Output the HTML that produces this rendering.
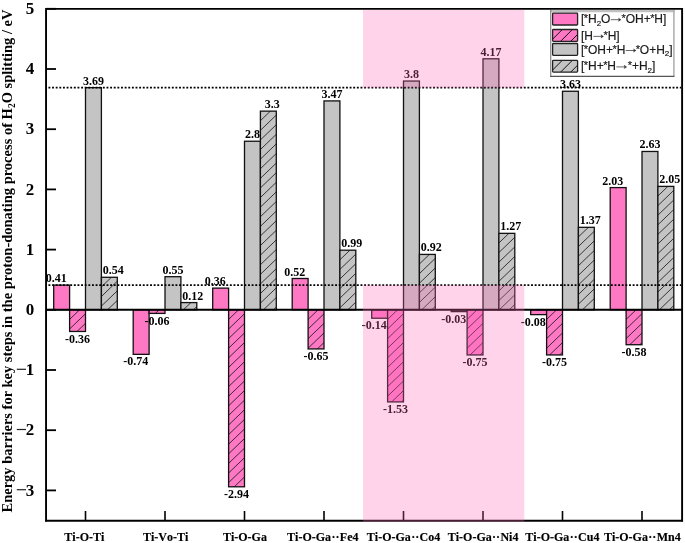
<!DOCTYPE html>
<html><head><meta charset="utf-8"><style>html,body{margin:0;padding:0;background:#fff;width:685px;height:543px;overflow:hidden}svg{display:block}</style></head><body><svg width="685" height="543" viewBox="0 0 685 543" style="will-change:transform"><rect width="685" height="543" fill="#fff"/><rect x="53.70" y="285.12" width="15.90" height="24.68" fill="#FF78C4"/><rect x="53.70" y="285.12" width="15.90" height="24.68" fill="none" stroke="#111" stroke-width="1.3"/><rect x="69.60" y="309.80" width="15.90" height="21.67" fill="#FF78C4"/><clipPath id="h1"><rect x="69.60" y="309.80" width="15.90" height="21.67"/></clipPath><path clip-path="url(#h1)" d="M68.60 310.76L86.50 293.58M68.60 320.36L86.50 303.18M68.60 329.96L86.50 312.78M68.60 339.56L86.50 322.38M68.60 349.16L86.50 331.98" stroke="#111" stroke-width="0.8" fill="none"/><rect x="69.60" y="309.80" width="15.90" height="21.67" fill="none" stroke="#111" stroke-width="1.3"/><rect x="85.50" y="87.66" width="15.90" height="222.14" fill="#C4C4C4"/><rect x="85.50" y="87.66" width="15.90" height="222.14" fill="none" stroke="#111" stroke-width="1.3"/><rect x="101.40" y="277.29" width="15.90" height="32.51" fill="#C4C4C4"/><clipPath id="h2"><rect x="101.40" y="277.29" width="15.90" height="32.51"/></clipPath><path clip-path="url(#h2)" d="M100.40 278.25L118.30 261.07M100.40 287.85L118.30 270.67M100.40 297.45L118.30 280.27M100.40 307.05L118.30 289.87M100.40 316.65L118.30 299.47M100.40 326.25L118.30 309.07" stroke="#111" stroke-width="0.8" fill="none"/><rect x="101.40" y="277.29" width="15.90" height="32.51" fill="none" stroke="#111" stroke-width="1.3"/><rect x="133.20" y="309.80" width="15.90" height="44.55" fill="#FF78C4"/><rect x="133.20" y="309.80" width="15.90" height="44.55" fill="none" stroke="#111" stroke-width="1.3"/><rect x="149.10" y="309.80" width="15.90" height="3.61" fill="#FF78C4"/><clipPath id="h3"><rect x="149.10" y="309.80" width="15.90" height="3.61"/></clipPath><path clip-path="url(#h3)" d="M148.10 310.76L166.00 293.58M148.10 320.36L166.00 303.18M148.10 329.96L166.00 312.78" stroke="#111" stroke-width="0.8" fill="none"/><rect x="149.10" y="309.80" width="15.90" height="3.61" fill="none" stroke="#111" stroke-width="1.3"/><rect x="165.00" y="276.69" width="15.90" height="33.11" fill="#C4C4C4"/><rect x="165.00" y="276.69" width="15.90" height="33.11" fill="none" stroke="#111" stroke-width="1.3"/><rect x="180.90" y="302.58" width="15.90" height="7.22" fill="#C4C4C4"/><clipPath id="h4"><rect x="180.90" y="302.58" width="15.90" height="7.22"/></clipPath><path clip-path="url(#h4)" d="M179.90 303.54L197.80 286.35M179.90 313.14L197.80 295.95M179.90 322.74L197.80 305.55" stroke="#111" stroke-width="0.8" fill="none"/><rect x="180.90" y="302.58" width="15.90" height="7.22" fill="none" stroke="#111" stroke-width="1.3"/><rect x="212.70" y="288.13" width="15.90" height="21.67" fill="#FF78C4"/><rect x="212.70" y="288.13" width="15.90" height="21.67" fill="none" stroke="#111" stroke-width="1.3"/><rect x="228.60" y="309.80" width="15.90" height="176.99" fill="#FF78C4"/><clipPath id="h5"><rect x="228.60" y="309.80" width="15.90" height="176.99"/></clipPath><path clip-path="url(#h5)" d="M227.60 310.76L245.50 293.58M227.60 320.36L245.50 303.18M227.60 329.96L245.50 312.78M227.60 339.56L245.50 322.38M227.60 349.16L245.50 331.98M227.60 358.76L245.50 341.58M227.60 368.36L245.50 351.18M227.60 377.96L245.50 360.78M227.60 387.56L245.50 370.38M227.60 397.16L245.50 379.98M227.60 406.76L245.50 389.58M227.60 416.36L245.50 399.18M227.60 425.96L245.50 408.78M227.60 435.56L245.50 418.38M227.60 445.16L245.50 427.98M227.60 454.76L245.50 437.58M227.60 464.36L245.50 447.18M227.60 473.96L245.50 456.78M227.60 483.56L245.50 466.38M227.60 493.16L245.50 475.98M227.60 502.76L245.50 485.58" stroke="#111" stroke-width="0.8" fill="none"/><rect x="228.60" y="309.80" width="15.90" height="176.99" fill="none" stroke="#111" stroke-width="1.3"/><rect x="244.50" y="141.24" width="15.90" height="168.56" fill="#C4C4C4"/><rect x="244.50" y="141.24" width="15.90" height="168.56" fill="none" stroke="#111" stroke-width="1.3"/><rect x="260.40" y="111.14" width="15.90" height="198.66" fill="#C4C4C4"/><clipPath id="h6"><rect x="260.40" y="111.14" width="15.90" height="198.66"/></clipPath><path clip-path="url(#h6)" d="M259.40 112.10L277.30 94.92M259.40 121.70L277.30 104.52M259.40 131.30L277.30 114.12M259.40 140.90L277.30 123.72M259.40 150.50L277.30 133.32M259.40 160.10L277.30 142.92M259.40 169.70L277.30 152.52M259.40 179.30L277.30 162.12M259.40 188.90L277.30 171.72M259.40 198.50L277.30 181.32M259.40 208.10L277.30 190.92M259.40 217.70L277.30 200.52M259.40 227.30L277.30 210.12M259.40 236.90L277.30 219.72M259.40 246.50L277.30 229.32M259.40 256.10L277.30 238.92M259.40 265.70L277.30 248.52M259.40 275.30L277.30 258.12M259.40 284.90L277.30 267.72M259.40 294.50L277.30 277.32M259.40 304.10L277.30 286.92M259.40 313.70L277.30 296.52M259.40 323.30L277.30 306.12" stroke="#111" stroke-width="0.8" fill="none"/><rect x="260.40" y="111.14" width="15.90" height="198.66" fill="none" stroke="#111" stroke-width="1.3"/><rect x="292.20" y="278.50" width="15.90" height="31.30" fill="#FF78C4"/><rect x="292.20" y="278.50" width="15.90" height="31.30" fill="none" stroke="#111" stroke-width="1.3"/><rect x="308.10" y="309.80" width="15.90" height="39.13" fill="#FF78C4"/><clipPath id="h7"><rect x="308.10" y="309.80" width="15.90" height="39.13"/></clipPath><path clip-path="url(#h7)" d="M307.10 310.76L325.00 293.58M307.10 320.36L325.00 303.18M307.10 329.96L325.00 312.78M307.10 339.56L325.00 322.38M307.10 349.16L325.00 331.98M307.10 358.76L325.00 341.58" stroke="#111" stroke-width="0.8" fill="none"/><rect x="308.10" y="309.80" width="15.90" height="39.13" fill="none" stroke="#111" stroke-width="1.3"/><rect x="324.00" y="100.91" width="15.90" height="208.89" fill="#C4C4C4"/><rect x="324.00" y="100.91" width="15.90" height="208.89" fill="none" stroke="#111" stroke-width="1.3"/><rect x="339.90" y="250.20" width="15.90" height="59.60" fill="#C4C4C4"/><clipPath id="h8"><rect x="339.90" y="250.20" width="15.90" height="59.60"/></clipPath><path clip-path="url(#h8)" d="M338.90 251.16L356.80 233.98M338.90 260.76L356.80 243.58M338.90 270.36L356.80 253.18M338.90 279.96L356.80 262.78M338.90 289.56L356.80 272.38M338.90 299.16L356.80 281.98M338.90 308.76L356.80 291.58M338.90 318.36L356.80 301.18M338.90 327.96L356.80 310.78" stroke="#111" stroke-width="0.8" fill="none"/><rect x="339.90" y="250.20" width="15.90" height="59.60" fill="none" stroke="#111" stroke-width="1.3"/><rect x="371.70" y="309.80" width="15.90" height="8.43" fill="#FF78C4"/><rect x="371.70" y="309.80" width="15.90" height="8.43" fill="none" stroke="#111" stroke-width="1.3"/><rect x="387.60" y="309.80" width="15.90" height="92.11" fill="#FF78C4"/><clipPath id="h9"><rect x="387.60" y="309.80" width="15.90" height="92.11"/></clipPath><path clip-path="url(#h9)" d="M386.60 310.76L404.50 293.58M386.60 320.36L404.50 303.18M386.60 329.96L404.50 312.78M386.60 339.56L404.50 322.38M386.60 349.16L404.50 331.98M386.60 358.76L404.50 341.58M386.60 368.36L404.50 351.18M386.60 377.96L404.50 360.78M386.60 387.56L404.50 370.38M386.60 397.16L404.50 379.98M386.60 406.76L404.50 389.58M386.60 416.36L404.50 399.18" stroke="#111" stroke-width="0.8" fill="none"/><rect x="387.60" y="309.80" width="15.90" height="92.11" fill="none" stroke="#111" stroke-width="1.3"/><rect x="403.50" y="81.04" width="15.90" height="228.76" fill="#C4C4C4"/><rect x="403.50" y="81.04" width="15.90" height="228.76" fill="none" stroke="#111" stroke-width="1.3"/><rect x="419.40" y="254.42" width="15.90" height="55.38" fill="#C4C4C4"/><clipPath id="h10"><rect x="419.40" y="254.42" width="15.90" height="55.38"/></clipPath><path clip-path="url(#h10)" d="M418.40 255.38L436.30 238.19M418.40 264.98L436.30 247.79M418.40 274.58L436.30 257.39M418.40 284.18L436.30 266.99M418.40 293.78L436.30 276.59M418.40 303.38L436.30 286.19M418.40 312.98L436.30 295.79M418.40 322.58L436.30 305.39" stroke="#111" stroke-width="0.8" fill="none"/><rect x="419.40" y="254.42" width="15.90" height="55.38" fill="none" stroke="#111" stroke-width="1.3"/><rect x="451.20" y="309.80" width="15.90" height="1.81" fill="#FF78C4"/><rect x="451.20" y="309.80" width="15.90" height="1.81" fill="none" stroke="#111" stroke-width="1.3"/><rect x="467.10" y="309.80" width="15.90" height="45.15" fill="#FF78C4"/><clipPath id="h11"><rect x="467.10" y="309.80" width="15.90" height="45.15"/></clipPath><path clip-path="url(#h11)" d="M466.10 310.76L484.00 293.58M466.10 320.36L484.00 303.18M466.10 329.96L484.00 312.78M466.10 339.56L484.00 322.38M466.10 349.16L484.00 331.98M466.10 358.76L484.00 341.58M466.10 368.36L484.00 351.18" stroke="#111" stroke-width="0.8" fill="none"/><rect x="467.10" y="309.80" width="15.90" height="45.15" fill="none" stroke="#111" stroke-width="1.3"/><rect x="483.00" y="58.77" width="15.90" height="251.03" fill="#C4C4C4"/><rect x="483.00" y="58.77" width="15.90" height="251.03" fill="none" stroke="#111" stroke-width="1.3"/><rect x="498.90" y="233.35" width="15.90" height="76.45" fill="#C4C4C4"/><clipPath id="h12"><rect x="498.90" y="233.35" width="15.90" height="76.45"/></clipPath><path clip-path="url(#h12)" d="M497.90 234.31L515.80 217.12M497.90 243.91L515.80 226.72M497.90 253.51L515.80 236.32M497.90 263.11L515.80 245.92M497.90 272.71L515.80 255.52M497.90 282.31L515.80 265.12M497.90 291.91L515.80 274.72M497.90 301.51L515.80 284.32M497.90 311.11L515.80 293.92M497.90 320.71L515.80 303.52" stroke="#111" stroke-width="0.8" fill="none"/><rect x="498.90" y="233.35" width="15.90" height="76.45" fill="none" stroke="#111" stroke-width="1.3"/><rect x="530.70" y="309.80" width="15.90" height="4.82" fill="#FF78C4"/><rect x="530.70" y="309.80" width="15.90" height="4.82" fill="none" stroke="#111" stroke-width="1.3"/><rect x="546.60" y="309.80" width="15.90" height="45.15" fill="#FF78C4"/><clipPath id="h13"><rect x="546.60" y="309.80" width="15.90" height="45.15"/></clipPath><path clip-path="url(#h13)" d="M545.60 310.76L563.50 293.58M545.60 320.36L563.50 303.18M545.60 329.96L563.50 312.78M545.60 339.56L563.50 322.38M545.60 349.16L563.50 331.98M545.60 358.76L563.50 341.58M545.60 368.36L563.50 351.18" stroke="#111" stroke-width="0.8" fill="none"/><rect x="546.60" y="309.80" width="15.90" height="45.15" fill="none" stroke="#111" stroke-width="1.3"/><rect x="562.50" y="91.27" width="15.90" height="218.53" fill="#C4C4C4"/><rect x="562.50" y="91.27" width="15.90" height="218.53" fill="none" stroke="#111" stroke-width="1.3"/><rect x="578.40" y="227.33" width="15.90" height="82.47" fill="#C4C4C4"/><clipPath id="h14"><rect x="578.40" y="227.33" width="15.90" height="82.47"/></clipPath><path clip-path="url(#h14)" d="M577.40 228.29L595.30 211.10M577.40 237.89L595.30 220.70M577.40 247.49L595.30 230.30M577.40 257.09L595.30 239.90M577.40 266.69L595.30 249.50M577.40 276.29L595.30 259.10M577.40 285.89L595.30 268.70M577.40 295.49L595.30 278.30M577.40 305.09L595.30 287.90M577.40 314.69L595.30 297.50M577.40 324.29L595.30 307.10" stroke="#111" stroke-width="0.8" fill="none"/><rect x="578.40" y="227.33" width="15.90" height="82.47" fill="none" stroke="#111" stroke-width="1.3"/><rect x="610.20" y="187.59" width="15.90" height="122.21" fill="#FF78C4"/><rect x="610.20" y="187.59" width="15.90" height="122.21" fill="none" stroke="#111" stroke-width="1.3"/><rect x="626.10" y="309.80" width="15.90" height="34.92" fill="#FF78C4"/><clipPath id="h15"><rect x="626.10" y="309.80" width="15.90" height="34.92"/></clipPath><path clip-path="url(#h15)" d="M625.10 310.76L643.00 293.58M625.10 320.36L643.00 303.18M625.10 329.96L643.00 312.78M625.10 339.56L643.00 322.38M625.10 349.16L643.00 331.98M625.10 358.76L643.00 341.58" stroke="#111" stroke-width="0.8" fill="none"/><rect x="626.10" y="309.80" width="15.90" height="34.92" fill="none" stroke="#111" stroke-width="1.3"/><rect x="642.00" y="151.47" width="15.90" height="158.33" fill="#C4C4C4"/><rect x="642.00" y="151.47" width="15.90" height="158.33" fill="none" stroke="#111" stroke-width="1.3"/><rect x="657.90" y="186.39" width="15.90" height="123.41" fill="#C4C4C4"/><clipPath id="h16"><rect x="657.90" y="186.39" width="15.90" height="123.41"/></clipPath><path clip-path="url(#h16)" d="M656.90 187.35L674.80 170.17M656.90 196.95L674.80 179.77M656.90 206.55L674.80 189.37M656.90 216.15L674.80 198.97M656.90 225.75L674.80 208.57M656.90 235.35L674.80 218.17M656.90 244.95L674.80 227.77M656.90 254.55L674.80 237.37M656.90 264.15L674.80 246.97M656.90 273.75L674.80 256.57M656.90 283.35L674.80 266.17M656.90 292.95L674.80 275.77M656.90 302.55L674.80 285.37M656.90 312.15L674.80 294.97M656.90 321.75L674.80 304.57" stroke="#111" stroke-width="0.8" fill="none"/><rect x="657.90" y="186.39" width="15.90" height="123.41" fill="none" stroke="#111" stroke-width="1.3"/><line x1="48.45" y1="87.66" x2="681" y2="87.66" stroke="#000" stroke-width="1.9" stroke-dasharray="1.9 1.7286"/><line x1="48.45" y1="285.12" x2="681" y2="285.12" stroke="#000" stroke-width="1.9" stroke-dasharray="1.9 1.7286"/><line x1="46" y1="309.80" x2="682" y2="309.80" stroke="#000" stroke-width="2"/><g font-family="Liberation Serif" font-weight="bold" font-size="12" text-anchor="middle"><text x="56.25" y="282.12">0.41</text><text x="77.55" y="342.57">-0.36</text><text x="93.45" y="84.66">3.69</text><text x="113.35" y="274.29">0.54</text><text x="135.75" y="365.45">-0.74</text><text x="157.05" y="324.51">-0.06</text><text x="172.95" y="273.69">0.55</text><text x="192.85" y="299.58">0.12</text><text x="215.25" y="285.13">0.36</text><text x="236.55" y="497.89">-2.94</text><text x="252.45" y="138.24">2.8</text><text x="272.35" y="108.14">3.3</text><text x="294.75" y="275.50">0.52</text><text x="316.05" y="360.03">-0.65</text><text x="331.95" y="97.91">3.47</text><text x="351.85" y="247.20">0.99</text><text x="374.25" y="329.33">-0.14</text><text x="395.55" y="413.01">-1.53</text><text x="411.45" y="78.04">3.8</text><text x="431.35" y="251.42">0.92</text><text x="453.75" y="322.71">-0.03</text><text x="475.05" y="366.05">-0.75</text><text x="490.95" y="55.77">4.17</text><text x="510.85" y="230.35">1.27</text><text x="533.25" y="325.72">-0.08</text><text x="554.55" y="366.05">-0.75</text><text x="570.45" y="88.27">3.63</text><text x="590.35" y="224.33">1.37</text><text x="612.75" y="184.59">2.03</text><text x="634.05" y="355.82">-0.58</text><text x="649.95" y="148.47">2.63</text><text x="669.85" y="183.39">2.05</text></g><line x1="45.1" y1="520.7" x2="683.05" y2="520.7" stroke="#000" stroke-width="1.9"/><line x1="85.50" y1="511" x2="85.50" y2="520" stroke="#000" stroke-width="1.6"/><line x1="165.00" y1="511" x2="165.00" y2="520" stroke="#000" stroke-width="1.6"/><line x1="244.50" y1="511" x2="244.50" y2="520" stroke="#000" stroke-width="1.6"/><line x1="324.00" y1="511" x2="324.00" y2="520" stroke="#000" stroke-width="1.6"/><line x1="403.50" y1="511" x2="403.50" y2="520" stroke="#000" stroke-width="1.6"/><line x1="483.00" y1="511" x2="483.00" y2="520" stroke="#000" stroke-width="1.6"/><line x1="562.50" y1="511" x2="562.50" y2="520" stroke="#000" stroke-width="1.6"/><line x1="642.00" y1="511" x2="642.00" y2="520" stroke="#000" stroke-width="1.6"/><rect x="363" y="10" width="161.3" height="77.66" fill="rgba(255,105,185,0.285)"/><rect x="363" y="285.12" width="161.3" height="236.53" fill="rgba(255,105,185,0.285)"/><path d="M46.05 521.6V8.85H682.1V521.6" fill="none" stroke="#000" stroke-width="1.9" stroke-linejoin="miter" stroke-linecap="butt"/><line x1="46" y1="490.40" x2="56" y2="490.40" stroke="#000" stroke-width="1.8"/><line x1="46" y1="430.20" x2="56" y2="430.20" stroke="#000" stroke-width="1.8"/><line x1="46" y1="370.00" x2="56" y2="370.00" stroke="#000" stroke-width="1.8"/><line x1="46" y1="309.80" x2="56" y2="309.80" stroke="#000" stroke-width="1.8"/><line x1="46" y1="249.60" x2="56" y2="249.60" stroke="#000" stroke-width="1.8"/><line x1="46" y1="189.40" x2="56" y2="189.40" stroke="#000" stroke-width="1.8"/><line x1="46" y1="129.20" x2="56" y2="129.20" stroke="#000" stroke-width="1.8"/><line x1="46" y1="69.00" x2="56" y2="69.00" stroke="#000" stroke-width="1.8"/><line x1="46" y1="8.80" x2="56" y2="8.80" stroke="#000" stroke-width="1.8"/><g font-family="Liberation Serif" font-weight="bold" font-size="17" text-anchor="end"><text x="34.3" y="495.50">3</text><rect x="16.8" y="489.10" width="9.2" height="1.2" fill="#222"/><text x="34.3" y="435.30">2</text><rect x="16.8" y="428.90" width="9.2" height="1.2" fill="#222"/><text x="34.3" y="375.10">1</text><rect x="16.8" y="368.70" width="9.2" height="1.2" fill="#222"/><text x="34.3" y="314.90">0</text><text x="34.3" y="254.70">1</text><text x="34.3" y="194.50">2</text><text x="34.3" y="134.30">3</text><text x="34.3" y="74.10">4</text><text x="34.3" y="13.90">5</text></g><g font-family="Liberation Serif" font-weight="bold" font-size="12" text-anchor="middle" style="font-kerning:none" stroke="#000" stroke-width="0.15"><text x="84.35" y="541.3">Ti-O-Ti</text><text x="165.70" y="541.3">Ti-Vo-Ti</text><text x="244.90" y="541.3">Ti-O-Ga</text><text x="322.80" y="541.3">Ti-O-Ga<tspan dx="0.35">·</tspan><tspan dx="0">·</tspan><tspan dx="0.35">Fe4</tspan></text><text x="403.50" y="541.3">Ti-O-Ga<tspan dx="0.35">·</tspan><tspan dx="0">·</tspan><tspan dx="0.35">Co4</tspan></text><text x="483.10" y="541.3">Ti-O-Ga<tspan dx="0.35">·</tspan><tspan dx="0">·</tspan><tspan dx="0.35">Ni4</tspan></text><text x="562.40" y="541.3">Ti-O-Ga<tspan dx="0.35">·</tspan><tspan dx="0">·</tspan><tspan dx="0.35">Cu4</tspan></text><text x="642.30" y="541.3">Ti-O-Ga<tspan dx="0.35">·</tspan><tspan dx="0">·</tspan><tspan dx="0.35">Mn4</tspan></text></g><text transform="translate(12.3,261) rotate(-90)" font-family="Liberation Serif" font-weight="bold" font-size="14.5" text-anchor="middle">Energy barriers for key steps in the proton-donating process of H<tspan font-size="9.5" dy="3">2</tspan><tspan dy="-3">O splitting / eV</tspan></text><rect x="550.7" y="10.6" width="123.2" height="65.7" fill="#fff"/><line x1="550.2" y1="11.1" x2="674.6" y2="11.1" stroke="#c0c0c0" stroke-width="2.4"/><line x1="673.9" y1="10" x2="673.9" y2="76.8" stroke="#acacac" stroke-width="1.5"/><line x1="550.75" y1="10" x2="550.75" y2="76.8" stroke="#7a7a7a" stroke-width="1.1"/><line x1="550.2" y1="76.35" x2="674.4" y2="76.35" stroke="#555" stroke-width="1.1"/><rect x="552.6" y="13.20" width="25" height="11.8" fill="#FF78C4"/><rect x="552.6" y="13.20" width="25" height="11.8" rx="0.8" fill="none" stroke="#222" stroke-width="1.3"/><rect x="552.6" y="29.50" width="25" height="11.8" fill="#FF78C4"/><clipPath id="h17"><rect x="552.60" y="29.50" width="25.00" height="11.80"/></clipPath><path clip-path="url(#h17)" d="M551.60 30.10L578.60 3.10M551.60 40.20L578.60 13.20M551.60 50.30L578.60 23.30M551.60 60.40L578.60 33.40" stroke="#111" stroke-width="1.0" fill="none"/><rect x="552.6" y="29.50" width="25" height="11.8" rx="0.8" fill="none" stroke="#222" stroke-width="1.3"/><rect x="552.6" y="43.50" width="25" height="11.8" fill="#C4C4C4"/><rect x="552.6" y="43.50" width="25" height="11.8" rx="0.8" fill="none" stroke="#222" stroke-width="1.3"/><rect x="552.6" y="60.30" width="25" height="11.8" fill="#C4C4C4"/><clipPath id="h18"><rect x="552.60" y="60.30" width="25.00" height="11.80"/></clipPath><path clip-path="url(#h18)" d="M551.60 60.90L578.60 33.90M551.60 71.00L578.60 44.00M551.60 81.10L578.60 54.10M551.60 91.20L578.60 64.20" stroke="#111" stroke-width="1.0" fill="none"/><rect x="552.6" y="60.30" width="25" height="11.8" rx="0.8" fill="none" stroke="#222" stroke-width="1.3"/><g font-family="Liberation Sans" font-size="12" fill="#1a1a1a" stroke="#1a1a1a" stroke-width="0.18"><text x="580.95" y="22.9">[</text><text x="583.83" y="22.00" font-size="11">*</text><text x="587.98" y="22.9">H</text><text x="596.65" y="25.50" font-size="8">2</text><text x="601.10" y="22.9">O</text><path d="M610.83 19.70H619.13" stroke="#444" stroke-width="0.8"/><path d="M618.43 17.90L621.13 19.70L618.43 21.50L618.93 19.70Z" fill="#333"/><text x="621.48" y="22.00" font-size="11">*</text><text x="625.63" y="22.9">OH+</text><text x="650.19" y="22.00" font-size="11">*</text><text x="654.33" y="22.9">H]</text><text x="580.95" y="39.6">[</text><text x="584.28" y="39.6">H</text><path d="M593.35 36.40H601.65" stroke="#444" stroke-width="0.8"/><path d="M600.95 34.60L603.65 36.40L600.95 38.20L601.45 36.40Z" fill="#333"/><text x="603.50" y="38.70" font-size="11">*</text><text x="607.65" y="39.6">H]</text><text x="580.95" y="53.7">[</text><text x="583.83" y="52.80" font-size="11">*</text><text x="587.98" y="53.7">OH+</text><text x="612.54" y="52.80" font-size="11">*</text><text x="616.69" y="53.7">H</text><path d="M625.75 50.50H634.15" stroke="#444" stroke-width="0.8"/><path d="M633.45 48.70L636.15 50.50L633.45 52.30L633.95 50.50Z" fill="#333"/><text x="635.70" y="52.80" font-size="11">*</text><text x="639.85" y="53.7">O+H</text><text x="664.86" y="56.30" font-size="8">2</text><text x="669.31" y="53.7">]</text><text x="580.95" y="70.1">[</text><text x="583.83" y="69.20" font-size="11">*</text><text x="587.98" y="70.1">H+</text><text x="603.21" y="69.20" font-size="11">*</text><text x="607.35" y="70.1">H</text><path d="M616.42 66.90H624.82" stroke="#444" stroke-width="0.8"/><path d="M624.12 65.10L626.82 66.90L624.12 68.70L624.62 66.90Z" fill="#333"/><text x="627.77" y="69.20" font-size="11">*</text><text x="631.92" y="70.1">+H</text><text x="647.59" y="72.70" font-size="8">2</text><text x="652.04" y="70.1">]</text></g></svg></body></html>
